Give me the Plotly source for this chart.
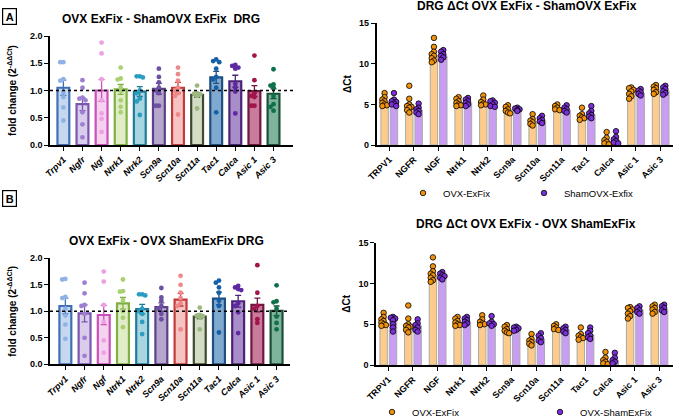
import plotly.graph_objects as go

W, H = 676, 419

genes_fc = ["Trpv1", "Ngfr", "Ngf", "Ntrk1", "Ntrk2", "Scn9a", "Scn10a", "Scn11a", "Tac1", "Calca", "Asic 1", "Asic 3"]
genes_ct = ["TRPV1", "NGFR", "NGF", "Ntrk1", "Ntrk2", "Scn9a", "Scn10a", "Scn11a", "Tac1", "Calca", "Asic 1", "Asic 3"]

fill_cols = ["#C6D8F0", "#D9CDEB", "#F6D2F1", "#E1EDC9", "#A9D5E1", "#B6A6CD", "#F6C3C3", "#D3DDC5", "#80A9CF", "#A98DC9", "#C97B9B", "#7DB49B"]
edge_cols = ["#3F70B6", "#7B56B1", "#C850B8", "#7EB141", "#1F7D99", "#5C4089", "#C43939", "#3F4A31", "#1F4F81", "#4B2479", "#701641", "#1C4F39"]
pt_cols = ["#8FB3E4", "#9F80D0", "#ECA1E1", "#A9D171", "#2A9DC1", "#6C50A1", "#EE8989", "#9DB981", "#1561A9", "#5F29A1", "#A1154D", "#0F7149"]

# Panel A: OVX ExFix - ShamOVX ExFix (fold change)
a_mean = [1.05, 0.75, 1.00, 1.02, 0.98, 1.03, 1.05, 0.92, 1.24, 1.17, 0.99, 0.94]
a_sem = [0.14, 0.12, 0.20, 0.09, 0.09, 0.10, 0.10, 0.04, 0.11, 0.11, 0.10, 0.09]
a_pts = [
    [1.52, 1.52, 1.21, 1.18, 0.97, 0.88, 0.69, 0.45],
    [1.19, 1.05, 0.87, 0.85, 0.82, 0.60, 0.38, 0.14],
    [1.88, 1.68, 1.21, 0.82, 0.58, 0.48, 0.24],
    [1.42, 1.22, 1.20, 1.05, 0.99, 0.82, 0.70, 0.60],
    [1.26, 1.26, 1.24, 1.00, 0.95, 0.85, 0.80, 0.55],
    [1.40, 1.25, 1.15, 1.05, 1.00, 0.95, 0.72, 0.72],
    [1.42, 1.30, 1.18, 1.05, 1.00, 0.95, 0.90, 0.56],
    [1.09, 0.95, 0.94, 0.93, 0.92, 0.92, 0.90, 0.67],
    [1.57, 1.54, 1.52, 1.40, 1.25, 1.20, 1.05, 0.60],
    [1.47, 1.45, 1.42, 1.40, 1.12, 1.05, 0.98, 0.58],
    [1.64, 1.19, 0.95, 0.90, 0.88, 0.72, 0.72],
    [1.39, 1.11, 1.09, 1.05, 0.90, 0.75, 0.70, 0.63],
]

# Panel B: OVX ExFix - OVX ShamExFix (fold change)
b_mean = [1.10, 0.96, 0.93, 1.15, 1.04, 1.08, 1.22, 0.90, 1.24, 1.19, 1.12, 1.01]
b_sem = [0.15, 0.16, 0.18, 0.11, 0.09, 0.08, 0.12, 0.04, 0.12, 0.11, 0.13, 0.09]
b_pts = [
    [1.60, 1.61, 1.27, 1.25, 1.05, 0.92, 0.75, 0.48],
    [1.54, 1.34, 1.12, 1.10, 0.95, 0.50, 0.16],
    [1.75, 1.56, 1.12, 0.80, 0.45, 0.22],
    [1.60, 1.38, 1.37, 1.20, 1.00, 0.88, 0.70],
    [1.32, 1.32, 1.30, 1.05, 1.00, 0.95, 0.80, 0.57],
    [1.44, 1.26, 1.20, 1.10, 1.05, 0.95, 0.85],
    [1.67, 1.50, 1.35, 1.25, 1.15, 1.10, 0.66],
    [1.07, 0.93, 0.92, 0.91, 0.90, 0.88, 0.66],
    [1.58, 1.54, 1.45, 1.35, 1.20, 1.10, 0.60],
    [1.48, 1.45, 1.42, 1.40, 1.15, 1.10, 0.98, 0.59],
    [1.87, 1.35, 1.10, 1.05, 0.85, 0.78],
    [1.49, 1.19, 1.17, 1.05, 0.90, 0.78, 0.66],
]

# Delta Ct, OVX-ExFix group (shared by panels C and D)
ovx_mean = [5.2, 4.7, 11.0, 5.2, 5.2, 4.3, 2.9, 4.5, 3.5, 0.5, 6.6, 6.8]
ovx_pts = [
    [6.4, 5.9, 5.6, 5.4, 5.2, 5.0, 4.9, 4.8],
    [7.3, 5.7, 5.0, 4.8, 4.7, 4.6, 4.3, 4.0],
    [13.2, 12.1, 11.5, 11.2, 11.0, 10.7, 10.4, 10.2],
    [5.9, 5.7, 5.4, 5.2, 5.0, 4.9, 4.8],
    [6.1, 5.6, 5.3, 5.1, 5.0, 4.9],
    [4.9, 4.7, 4.4, 4.2, 4.0, 3.9],
    [3.8, 3.2, 3.0, 2.8, 2.6, 2.4],
    [5.0, 4.8, 4.6, 4.4, 4.3],
    [4.6, 3.8, 3.6, 3.4, 3.3, 3.1],
    [1.6, 0.9, 0.6, 0.4, 0.2, 0.1],
    [7.1, 7.0, 6.8, 6.6, 6.3, 6.0, 5.7],
    [7.4, 7.2, 7.0, 6.8, 6.5, 6.3],
]
# ShamOVX-Exfix (panel C)
sham_mean = [5.2, 4.3, 11.0, 5.2, 5.1, 4.4, 3.0, 4.3, 3.8, 0.6, 6.4, 6.7]
sham_pts = [
    [6.4, 5.6, 5.4, 5.3, 5.1, 5.0, 4.8],
    [5.1, 4.6, 4.4, 4.2, 4.0, 3.8],
    [11.7, 11.5, 11.2, 11.0, 10.8, 10.5],
    [5.8, 5.6, 5.4, 5.2, 5.0, 4.8],
    [5.5, 5.4, 5.2, 5.0, 4.8, 4.7],
    [4.6, 4.5, 4.4, 4.3, 4.2],
    [3.6, 3.3, 3.1, 2.9, 2.7],
    [4.9, 4.6, 4.4, 4.2, 4.0],
    [4.8, 4.2, 3.9, 3.7, 3.5, 3.3],
    [1.7, 1.0, 0.7, 0.5, 0.3, 0.2],
    [6.9, 6.7, 6.5, 6.3, 6.1],
    [7.3, 7.1, 6.9, 6.6, 6.4, 6.2],
]
# OVX-ShamExFix (panel D)
shamex_mean = [5.4, 4.8, 11.0, 5.3, 5.1, 4.4, 3.2, 4.3, 3.7, 0.6, 6.7, 6.8]
shamex_pts = [
    [5.9, 5.8, 5.7, 5.5, 5.0, 4.6, 4.1],
    [5.6, 5.1, 4.9, 4.6, 4.3, 4.1],
    [11.4, 11.2, 11.0, 10.9, 10.7, 10.5],
    [5.9, 5.7, 5.5, 5.3, 5.1, 4.9],
    [6.0, 5.3, 5.1, 5.0, 4.8],
    [4.7, 4.6, 4.5, 4.3, 4.2],
    [3.9, 3.6, 3.3, 3.0, 2.8],
    [4.7, 4.5, 4.3, 4.1, 3.9],
    [4.6, 4.2, 3.9, 3.6, 3.4, 3.2],
    [1.5, 0.9, 0.6, 0.4, 0.2],
    [7.2, 7.0, 6.7, 6.5, 6.3],
    [7.4, 7.2, 7.0, 6.7, 6.5],
]

FONT = "Arial, Liberation Sans, Helvetica, sans-serif"
ORANGE_FILL, ORANGE_PT = "#FDCB8B", "#F0920E"
PURPLE_FILL, PURPLE_PT = "#C99DF3", "#7C30D9"


def swarm(vals, thr, step, maxw):
    """Deterministic horizontal spread of points with similar values."""
    order = sorted(range(len(vals)), key=lambda i: -vals[i])
    placed = []
    offs = [0.0] * len(vals)
    cands = [0.0]
    k = 1
    while k * step <= maxw + 1e-9:
        cands += [-k * step, k * step]
        k += 1
    for i in order:
        for c in cands:
            ok = all(not (abs(vals[i] - vals[j]) < thr and abs(c - offs[j]) < step * 0.99) for j in placed)
            if ok:
                offs[i] = c
                break
        placed.append(i)
    return offs


def px(x):
    return x / W


def py(y):
    return 1 - y / H


fig = go.Figure()


def fc_panel(means, sems, pts, xa, ya):
    for i in range(len(genes_fc)):
        fig.add_trace(go.Bar(
            x=[i], y=[means[i]], width=0.62, xaxis=xa, yaxis=ya,
            marker=dict(color=fill_cols[i], line=dict(color=edge_cols[i], width=2.2)),
            error_y=dict(type="data", array=[sems[i]], color=edge_cols[i], thickness=1.3, width=3),
            showlegend=False, hoverinfo="skip"))
        offs = swarm(pts[i], 0.06, 0.16, 0.3)
        fig.add_trace(go.Scatter(
            x=[i + o for o in offs], y=pts[i], mode="markers", xaxis=xa, yaxis=ya,
            marker=dict(color=pt_cols[i], size=4.8, line=dict(width=0)),
            showlegend=False, hoverinfo="skip"))


fc_panel(a_mean, a_sem, a_pts, "x", "y")
fc_panel(b_mean, b_sem, b_pts, "x2", "y2")


def ct_panel(m1, p1, m2, p2, xa, ya, names, legend):
    idx = list(range(len(genes_ct)))
    for (m, p, fc, pc, nm, sh) in [
        (m1, p1, ORANGE_FILL, ORANGE_PT, names[0], -0.19),
        (m2, p2, PURPLE_FILL, PURPLE_PT, names[1], 0.19)]:
        fig.add_trace(go.Bar(
            x=[i + sh for i in idx], y=m, width=0.3, xaxis=xa, yaxis=ya,
            marker=dict(color=fc, line=dict(color="#A9A9A9", width=1)),
            showlegend=False, hoverinfo="skip"))
        xs, ys = [], []
        for i in idx:
            offs = swarm(p[i], 0.35, 0.09, 0.14)
            xs += [i + sh + o for o in offs]
            ys += p[i]
        fig.add_trace(go.Scatter(
            x=xs, y=ys, mode="markers", xaxis=xa, yaxis=ya, name=nm,
            marker=dict(color=pc, size=5.5, line=dict(color="black", width=0.8)),
            showlegend=True, legend=legend, hoverinfo="skip"))


ct_panel(ovx_mean, ovx_pts, sham_mean, sham_pts, "x3", "y3", ["OVX-ExFix", "ShamOVX-Exfix"], "legend")
ct_panel(ovx_mean, ovx_pts, shamex_mean, shamex_pts, "x4", "y4", ["OVX-ExFix", "OVX-ShamExFix"], "legend2")

tickfont = dict(family=FONT, size=9, color="black", weight="bold")
axcommon = dict(showline=True, linecolor="black", linewidth=1.6, ticks="outside",
                ticklen=4, tickwidth=1.4, tickcolor="black", showgrid=False, zeroline=False,
                tickfont=tickfont)

fc_ticks = ["<i>%s</i>" % g for g in genes_fc]
ct_ticks = list(genes_ct)
fc_title = dict(text="<b>fold change (2<sup>-ΔΔCt</sup>)</b>", font=dict(size=10), standoff=11)
ct_title = dict(text="<b>ΔCt</b>", font=dict(size=10), standoff=6)

title_font = dict(size=12)

layout = dict(
    width=W, height=H, margin=dict(l=0, r=0, t=0, b=0, autoexpand=False),
    paper_bgcolor="white", plot_bgcolor="white", font=dict(family=FONT, color="black"),
    barmode="overlay",
    xaxis=dict(domain=[px(50), px(293)], range=[-0.7, 12.02], tickvals=list(range(12)), ticktext=fc_ticks,
               tickangle=-45, anchor="y", **axcommon),
    yaxis=dict(domain=[py(145), py(36)], range=[0, 2.0], tickvals=[0, 0.5, 1.0, 1.5, 2.0],
               tickformat=".1f", anchor="x", title=fc_title, **axcommon),
    xaxis2=dict(domain=[px(50), px(290)], range=[-0.8, 11.7], tickvals=list(range(12)), ticktext=fc_ticks,
                tickangle=-45, anchor="y2", **axcommon),
    yaxis2=dict(domain=[py(364.3), py(258.3)], range=[0, 2.0], tickvals=[0, 0.5, 1.0, 1.5, 2.0],
                tickformat=".1f", anchor="x2", title=fc_title, **axcommon),
    xaxis3=dict(domain=[px(376.7), px(673)], range=[-0.51, 11.5], tickvals=list(range(12)), ticktext=ct_ticks,
                tickangle=-45, anchor="y3", **axcommon),
    yaxis3=dict(domain=[py(145), py(23.3)], range=[0, 15], tickvals=[0, 5, 10, 15], anchor="x3",
                title=ct_title, **axcommon),
    xaxis4=dict(domain=[px(376), px(673)], range=[-0.5, 11.55], tickvals=list(range(12)), ticktext=ct_ticks,
                tickangle=-45, anchor="y4", **axcommon),
    yaxis4=dict(domain=[py(365), py(242.7)], range=[0, 15], tickvals=[0, 5, 10, 15], anchor="x4",
                title=ct_title, **axcommon),
    legend=dict(orientation="h", x=px(403), y=py(193), xanchor="left", yanchor="middle",
                xref="container", yref="container",
                entrywidth=76, entrywidthmode="pixels", font=dict(family=FONT, size=9.5),
                bgcolor="rgba(0,0,0,0)", itemclick=False, tracegroupgap=0),
    legend2=dict(orientation="h", x=px(372), y=py(412), xanchor="left", yanchor="middle",
                 xref="container", yref="container",
                 entrywidth=123, entrywidthmode="pixels", font=dict(family=FONT, size=9.5),
                 bgcolor="rgba(0,0,0,0)", itemclick=False, tracegroupgap=0),
    shapes=[
        dict(type="line", xref="x domain", yref="y", x0=0, x1=1, y0=1, y1=1,
             line=dict(color="black", width=1.5, dash="dot")),
        dict(type="line", xref="x2 domain", yref="y2", x0=0, x1=1, y0=1, y1=1,
             line=dict(color="black", width=1.5, dash="dot")),
    ],
    annotations=[
        dict(text="<b>OVX ExFix - ShamOVX ExFix  DRG</b>", x=px(161), y=py(19), xref="paper", yref="paper",
             xanchor="center", yanchor="middle", showarrow=False, font=title_font),
        dict(text="<b>OVX ExFix - OVX ShamExFix DRG</b>", x=px(166), y=py(240.5), xref="paper", yref="paper",
             xanchor="center", yanchor="middle", showarrow=False, font=title_font),
        dict(text="<b>DRG ΔCt OVX ExFix - ShamOVX ExFix</b>", x=px(527), y=py(6), xref="paper", yref="paper",
             xanchor="center", yanchor="middle", showarrow=False, font=title_font),
        dict(text="<b>DRG ΔCt OVX ExFix - OVX ShamExFix</b>", x=px(526), y=py(224), xref="paper", yref="paper",
             xanchor="center", yanchor="middle", showarrow=False, font=title_font),
        dict(text="<b>A</b>", x=px(9.5), y=py(17), xref="paper", yref="paper", showarrow=False,
             xanchor="center", yanchor="middle",
             font=dict(size=11), bordercolor="black", borderwidth=1.2, borderpad=1.5, width=10),
        dict(text="<b>B</b>", x=px(9.5), y=py(198), xref="paper", yref="paper", showarrow=False,
             xanchor="center", yanchor="middle",
             font=dict(size=11), bordercolor="black", borderwidth=1.2, borderpad=1.5, width=10),
    ],
)
fig.update_layout(**layout)
fig.write_html("out.html")
